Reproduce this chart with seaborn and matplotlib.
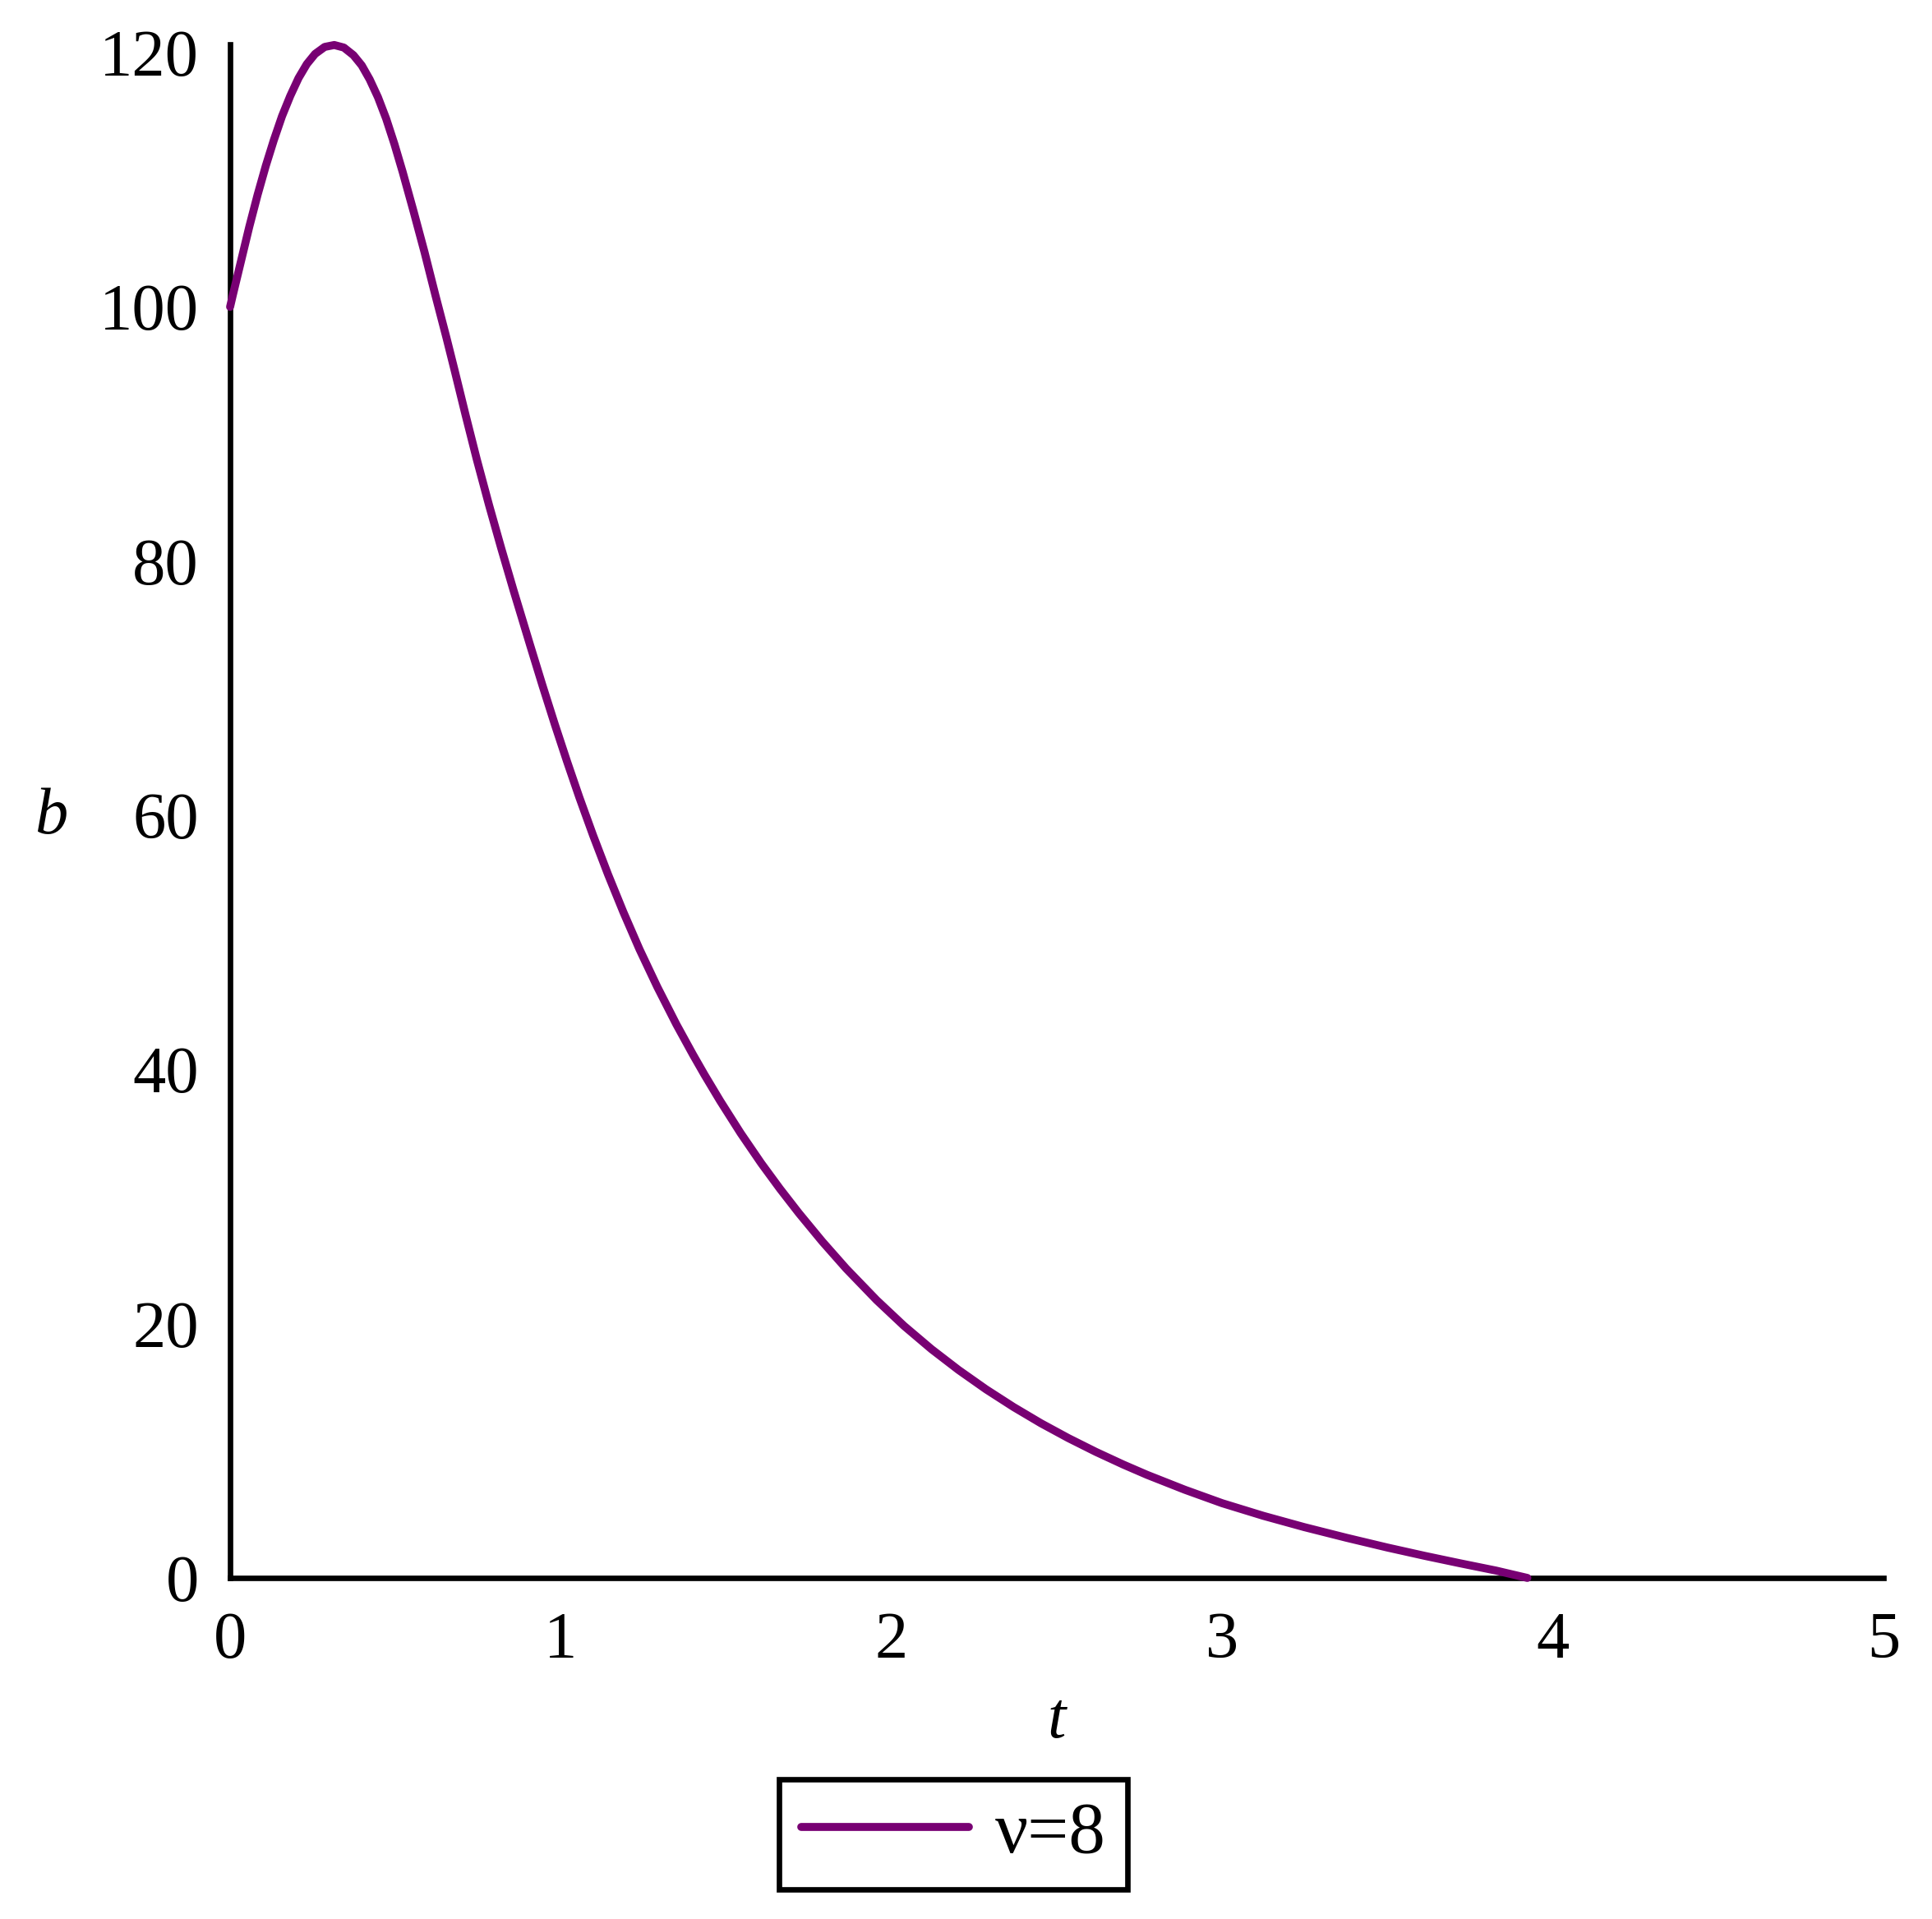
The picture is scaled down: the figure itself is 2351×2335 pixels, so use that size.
import matplotlib
matplotlib.use("Agg")
import matplotlib.pyplot as plt
import seaborn as sns
import pandas as pd
from matplotlib.ticker import MultipleLocator

# =========================
# Dados
# =========================
t_vals = [0.0, 0.008, 0.033, 0.058, 0.083, 0.108, 0.132, 0.157, 0.182, 0.207,
          0.232, 0.257, 0.286, 0.315, 0.344, 0.373, 0.398, 0.422, 0.447, 0.472,
          0.497, 0.522, 0.555, 0.588, 0.621, 0.654, 0.679, 0.712, 0.746, 0.783,
          0.82, 0.857, 0.907, 0.944, 0.982, 1.019, 1.056, 1.098, 1.143, 1.189,
          1.238, 1.292, 1.35, 1.40, 1.435, 1.482, 1.544, 1.606, 1.663, 1.72,
          1.791, 1.863, 1.955, 2.038, 2.121, 2.203, 2.286, 2.369, 2.452, 2.535,
          2.618, 2.701, 2.773, 2.887, 3.0, 3.124, 3.248, 3.376, 3.5, 3.614,
          3.72, 3.828, 3.923]
b_vals = [100.0, 100.9, 103.6, 106.3, 108.8, 111.1, 113.1, 115.0, 116.6, 118.0,
          119.1, 119.9, 120.45, 120.6, 120.4, 119.8, 119.0, 117.9, 116.5, 114.8,
          112.8, 110.6, 107.5, 104.3, 100.9, 97.6, 95.0, 91.5, 88.0, 84.41,
          81.0, 77.71, 73.41, 70.27, 67.15, 64.23, 61.42, 58.4, 55.34, 52.4,
          49.46, 46.49, 43.53, 41.16, 39.57, 37.53, 34.99, 32.63, 30.61, 28.7,
          26.46, 24.34, 21.86, 19.83, 18.0, 16.36, 14.84, 13.45, 12.17, 11.0,
          9.92, 8.92, 8.11, 6.94, 5.88, 4.89, 4.0, 3.16, 2.39, 1.73,
          1.15, 0.58, 0.0]
serie_label = "ν=8"
x_ticks = [0, 1, 2, 3, 4, 5]
y_ticks = [0, 20, 40, 60, 80, 100, 120]

COR = "#780073"
FONTE = ["Liberation Serif", "DejaVu Serif"]

sns.set_style("white")
plt.rcParams["font.family"] = FONTE
plt.rcParams["text.color"] = "black"
plt.rcParams["axes.labelcolor"] = "black"
plt.rcParams["xtick.color"] = "black"
plt.rcParams["ytick.color"] = "black"

df = pd.DataFrame({"t": t_vals, "b": b_vals})

fig = plt.figure(figsize=(23.51, 23.35), dpi=100)
ax = fig.add_axes([280 / 2351, 1 - 1920 / 2335, 2012 / 2351, 1866 / 2335])

sns.lineplot(data=df, x="t", y="b", color=COR, linewidth=7.0, sort=False,
             estimator=None, label=serie_label, ax=ax, clip_on=False)

ax.set_xlim(0, 5)
ax.set_ylim(0, 120.65)
ax.set_xticks(x_ticks)
ax.set_yticks(y_ticks)
ax.xaxis.set_minor_locator(MultipleLocator(0.5))
ax.yaxis.set_minor_locator(MultipleLocator(10))

for s in ["top", "right"]:
    ax.spines[s].set_visible(False)
for s in ["left", "bottom"]:
    ax.spines[s].set_linewidth(4.8)
    ax.spines[s].set_color("black")
    ax.spines[s].set_zorder(1)

ax.tick_params(which="major", direction="out", length=15.8, width=1.1,
               labelsize=58, color="black", labelcolor="black")
ax.tick_params(which="minor", direction="out", length=7.2, width=1.1, color="black")
ax.tick_params(axis="y", pad=11.5)
ax.tick_params(axis="x", pad=14)

ax.set_xlabel("t", fontsize=58, fontstyle="italic", color="black")
ax.set_ylabel("b", fontsize=58, fontstyle="italic", color="black",
              rotation=0, va="center", ha="center")
ax.xaxis.set_label_coords(0.5, -0.074)
ax.yaxis.set_label_coords(-0.1083, 0.496)

ax.get_legend().remove()
handles, labels = ax.get_legend_handles_labels()
leg = fig.legend(handles, labels, loc="center", bbox_to_anchor=(1160 / 2351, 1 - 2232 / 2335),
                 fontsize=64, frameon=True, fancybox=False, edgecolor="black",
                 handlelength=2.3, handletextpad=0.35, borderpad=0.3, borderaxespad=0,
                 labelcolor="black")
leg.get_frame().set_linewidth(4.8)
leg.get_frame().set_alpha(1)

fig.savefig("out.png", dpi=100, facecolor="white")
